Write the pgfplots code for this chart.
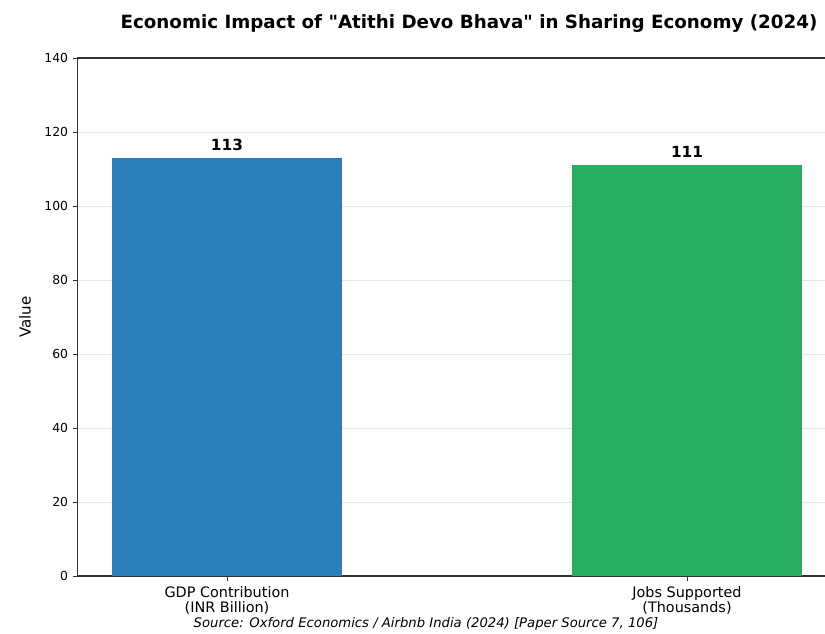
\documentclass[border=0pt]{standalone}
\usepackage{pgfplots}
\pgfplotsset{compat=1.18}
\usepackage{fontspec}
\setmainfont{DejaVu Sans}[Ligatures=TeXOff]
\definecolor{barblue}{HTML}{2980B9}
\definecolor{bargreen}{HTML}{27AE60}
\begin{document}
\begin{tikzpicture}
\begin{axis}[
  at={(0pt,0pt)}, anchor=south west,
  scale only axis,
  width=569.25pt, height=388.5pt,
  xmin=-0.325, xmax=1.325,
  ymin=0, ymax=140,
  ytick={0,20,...,140},
  xtick={0,1},
  xtick pos=bottom, ytick pos=left,
  xticklabels={{GDP Contribution\\(INR Billion)},{Jobs Supported\\(Thousands)}},
  xticklabel style={align=center, font=\fontsize{10.8}{11.3}\selectfont, yshift=-1pt},
  yticklabel style={font=\fontsize{9.3}{11}\selectfont},
  /pgf/number format/assume math mode=true,
  tick align=outside,
  major tick length=3.5pt,
  tick style={black!80, line width=0.6pt},
  axis line style={black!80, line width=0.8pt},
  ymajorgrids,
  grid style={black!10, line width=0.6pt},
  clip=false,
]
\addplot[ybar, bar width=0.5, bar shift=0pt, fill=barblue, draw=none,
  nodes near coords, every node near coord/.append style={font=\bfseries\fontsize{11.5}{13}\selectfont, anchor=south, yshift=2pt}]
  coordinates {(0,113)};
\addplot[ybar, bar width=0.5, bar shift=0pt, fill=bargreen, draw=none,
  nodes near coords, every node near coord/.append style={font=\bfseries\fontsize{11.5}{13}\selectfont, anchor=south, yshift=2pt}]
  coordinates {(1,111)};
\end{axis}
\node[font=\bfseries\fontsize{13.7}{16}\selectfont] at (293.6pt,414pt) {Economic Impact of "Atithi Devo Bhava" in Sharing Economy (2024)};
\node[font=\itshape\fontsize{9.9}{11}\selectfont] at (261.4pt,-35.6pt) {Source: Oxford Economics / Airbnb India (2024) [Paper Source 7, 106]};
\node[rotate=90, font=\fontsize{11.3}{13}\selectfont] at (-39.4pt,194.25pt) {Value};
\pgfresetboundingbox
\useasboundingbox (-58.125pt,-42.75pt) rectangle (560.625pt,432pt);
\end{tikzpicture}
\end{document}
